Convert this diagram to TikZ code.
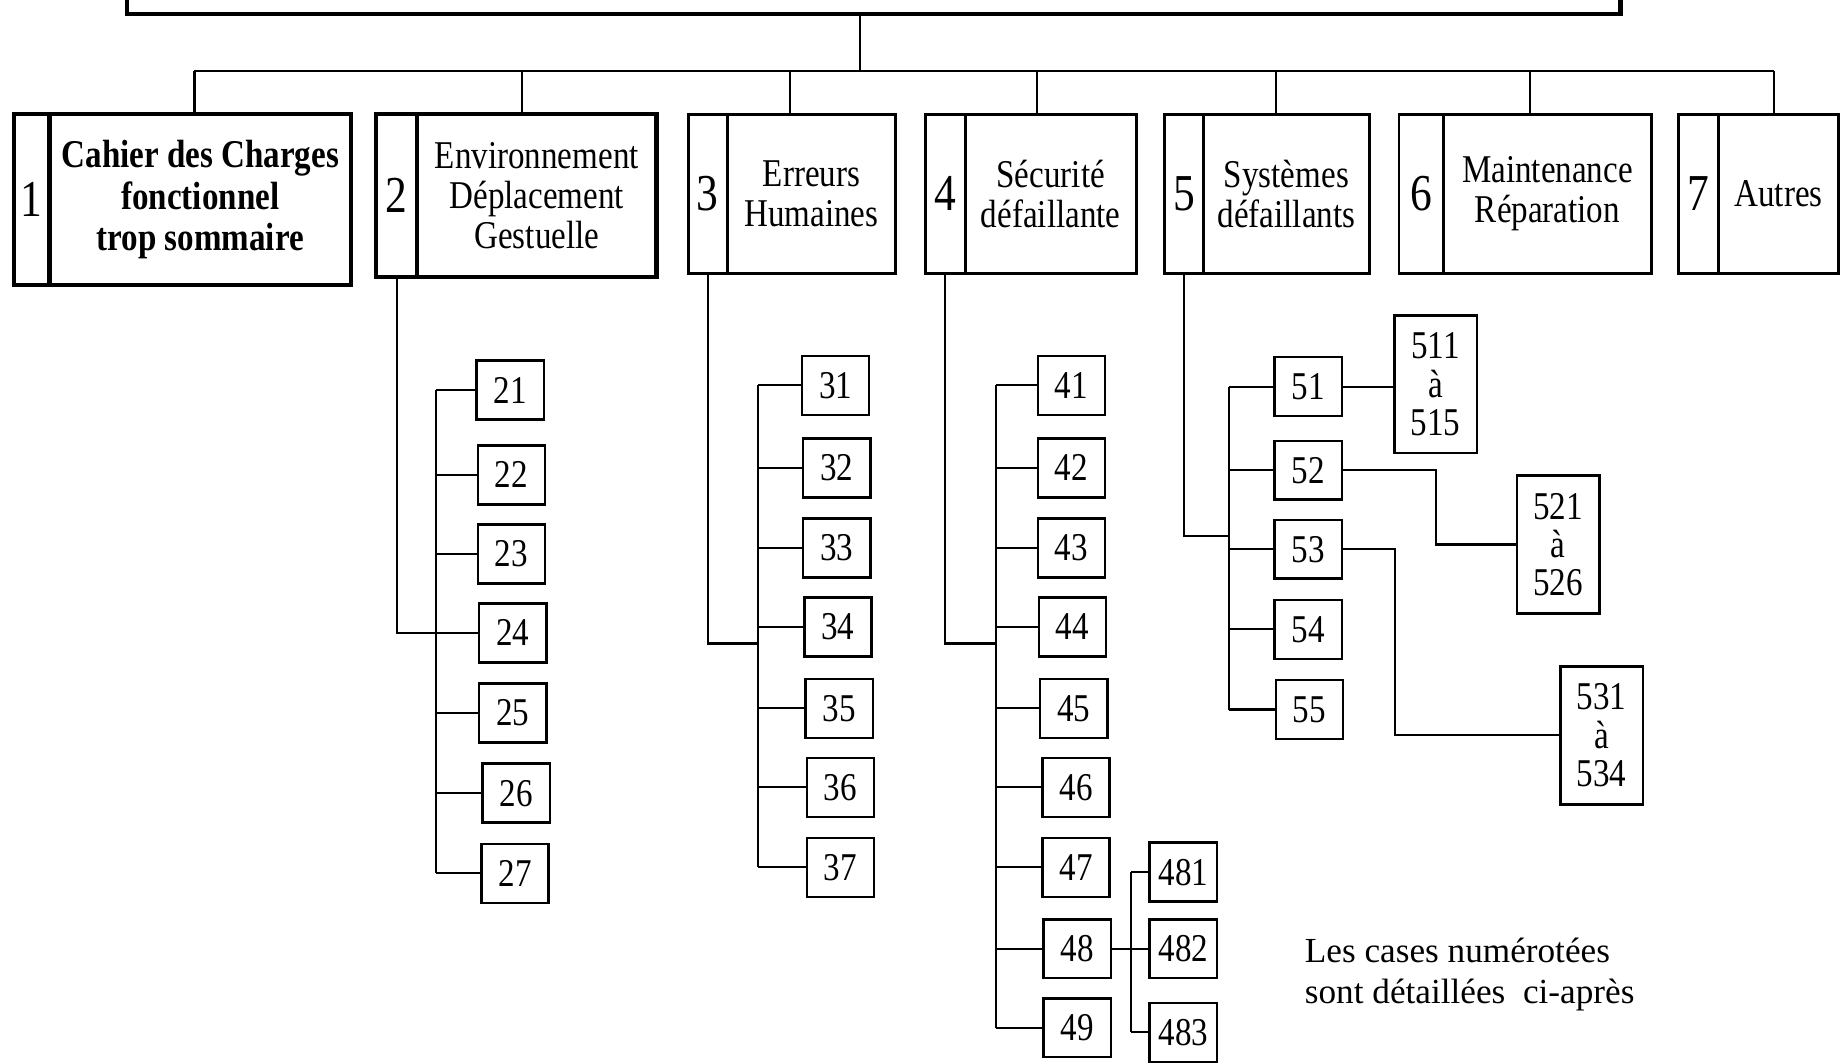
\documentclass[tikz,border=0pt]{standalone}
\usepackage{fontspec}
\setmainfont{Liberation Serif}[FakeStretch=0.84]
\newfontfamily\notefont{Liberation Serif}
\usetikzlibrary{positioning}
\newlength\pxu
\setlength\pxu{0.2mm}
\tikzstyle{link}     = [line width=1pt]
\tikzstyle{heavy}    = [line width=2pt]
\tikzstyle{cell}     = [rectangle, draw, line width=1.4pt, inner sep=0pt, outer sep=0pt, font=\fontsize{25}{25}\selectfont]
\tikzstyle{head}     = [rectangle, draw, line width=1.4pt, inner sep=2pt, outer sep=0pt, align=center, font=\fontsize{19}{19.5}\selectfont]
\tikzstyle{leaf}     = [rectangle, draw, line width=1.2pt, outer sep=0pt, minimum width=57*\pxu, minimum height=50*\pxu, font=\fontsize{19}{19}\selectfont]
\tikzstyle{rangebox} = [rectangle, draw, line width=1.2pt, outer sep=0pt, align=center, minimum width=70*\pxu, minimum height=117*\pxu, font=\fontsize{19}{18.5}\selectfont]

\begin{document}
\begin{tikzpicture}[x=0.2mm, y=-0.2mm]
  \useasboundingbox (0,0) rectangle (1568,902);
  \clip (0,0) rectangle (1568,902);
  \fill[white] (0,0) rectangle (1568,902);

  % Root box (cut by the top edge)
  \node[draw, heavy, outer sep=0pt, minimum width=1267*\pxu, minimum height=80*\pxu, anchor=south west] (root) at (108,12) {};

  % Main headings
  \node[cell, heavy, minimum width=30*\pxu, minimum height=145*\pxu, anchor=north west] (n1) at (12,97) {1};
  \node[head, heavy, minimum width=256*\pxu, minimum height=145*\pxu, right=0pt of n1, font=\bfseries\fontsize{19}{20}\selectfont] (hd1) {Cahier des Charges\\fonctionnel\\trop sommaire};
  \node[cell, heavy, minimum width=35*\pxu, minimum height=138*\pxu, anchor=north west] (n2) at (319,97) {2};
  \node[head, heavy, minimum width=203*\pxu, minimum height=138*\pxu, right=0pt of n2] (hd2) {Environnement\\Déplacement\\Gestuelle};
  \node[cell, minimum width=33*\pxu, minimum height=135*\pxu, anchor=north west] (n3) at (584,97) {3};
  \node[head, minimum width=143*\pxu, minimum height=135*\pxu, right=0pt of n3] (hd3) {Erreurs\\Humaines};
  \node[cell, minimum width=34*\pxu, minimum height=135*\pxu, anchor=north west] (n4) at (785,97) {4};
  \node[head, minimum width=145*\pxu, minimum height=135*\pxu, right=0pt of n4] (hd4) {Sécurité\\défaillante};
  \node[cell, minimum width=33*\pxu, minimum height=135*\pxu, anchor=north west] (n5) at (988,97) {5};
  \node[head, minimum width=141*\pxu, minimum height=135*\pxu, right=0pt of n5] (hd5) {Systèmes\\défaillants};
  \node[cell, minimum width=38*\pxu, minimum height=135*\pxu, anchor=north west] (n6) at (1187,97) {6};
  \node[head, minimum width=176*\pxu, minimum height=135*\pxu, right=0pt of n6] (hd6) {Maintenance\\Réparation};
  \node[cell, minimum width=34*\pxu, minimum height=135*\pxu, anchor=north west] (n7) at (1424,97) {7};
  \node[head, minimum width=102*\pxu, minimum height=135*\pxu, right=0pt of n7] (hd7) {Autres};

  % Bus from the root to the headings
  \coordinate (bus) at (730,60);
  \draw[link] (root.south -| bus) -- (bus);
  \draw[link] (165,60) -- (1505,60);
  \foreach \dx/\h in {165/hd1, 443/hd2, 670/hd3, 880/hd4, 1083/hd5, 1298/hd6, 1505/hd7}
      \draw[link] (\dx,60) -- (\dx,0 |- \h.north);

  % Branch 2
  \foreach \k/\x/\y in {21/433/331, 22/434/403, 23/434/470, 24/435/537, 25/435/605, 26/438/673, 27/437/741}
      \node[leaf] (b\k) at (\x,\y) {\k};
  \coordinate (j2) at (370,537);
  \draw[link] (n2.south) |- (j2);
  \draw[link] (b21.west -| j2) -- (b27.west -| j2);
  \foreach \k in {21,...,27}
      \draw[link] (b\k.west) -- (b\k.west -| j2);

  % Branch 3
  \foreach \k/\x/\y in {31/709/327, 32/710/397, 33/710/465, 34/711/532, 35/712/601, 36/713/668, 37/713/736}
      \node[leaf] (b\k) at (\x,\y) {\k};
  \coordinate (j3) at (643,546);
  \draw[link] (n3.south) |- (j3);
  \draw[link] (b31.west -| j3) -- (b37.west -| j3);
  \foreach \k in {31,...,37}
      \draw[link] (b\k.west) -- (b\k.west -| j3);

  % Branch 4
  \foreach \k/\x/\y in {41/909/327, 42/909/397, 43/909/465, 44/910/532, 45/911/601, 46/913/668, 47/913/736, 48/914/805, 49/914/872}
      \node[leaf] (b\k) at (\x,\y) {\k};
  \coordinate (j4) at (845,546);
  \draw[link] (n4.south) |- (j4);
  \draw[link] (b41.west -| j4) -- (b49.west -| j4);
  \foreach \k in {41,...,49}
      \draw[link] (b\k.west) -- (b\k.west -| j4);

  % Sub-branch 48
  \foreach \k/\y in {481/740, 482/805, 483/876}
      \node[leaf] (b\k) at (1004,\y) {\k};
  \coordinate (j48) at (960,805);
  \draw[link] (b48.east) -- (b482.west);
  \draw[link] (b481.west -| j48) -- (b483.west -| j48);
  \foreach \k in {481,483}
      \draw[link] (b\k.west) -- (b\k.west -| j48);

  % Branch 5
  \foreach \k/\x/\y in {51/1110/328, 52/1110/399, 53/1110/466, 54/1110/534, 55/1111/602}
      \node[leaf] (b\k) at (\x,\y) {\k};
  \coordinate (j5) at (1043,455);
  \draw[link] (n5.south) |- (j5);
  \draw[link] (b51.west -| j5) -- (b55.west -| j5);
  \foreach \k in {51,...,55}
      \draw[link] (b\k.west) -- (b\k.west -| j5);

  % Ranges of detailed cases
  \node[rangebox] (r51) at (1218,326) {511\\à\\515};
  \node[rangebox] (r52) at (1322,462) {521\\à\\526};
  \node[rangebox] (r53) at (1359,624) {531\\à\\534};
  \draw[link] (b51.east) -- (b51.east -| r51.west);
  \draw[link] (b52.east) -- ++(80,0) |- (r52.west);
  \draw[link] (b53.east) -- ++(45,0) |- (r53.west);

  % Note
  \node[anchor=west, align=left, font=\notefont\fontsize{17}{20}\selectfont] (note) at (1101,827) {Les cases numérotées\\sont détaillées\ \ ci-après};
\end{tikzpicture}
\end{document}
